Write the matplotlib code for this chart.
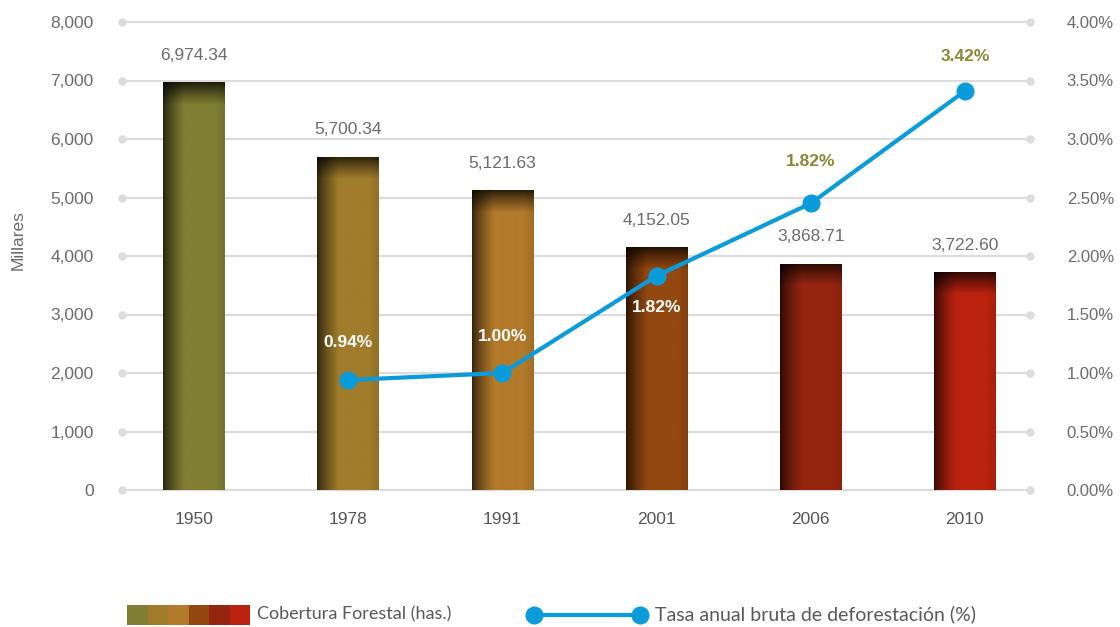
import numpy as np
import matplotlib
matplotlib.use("Agg")
import matplotlib.pyplot as plt
from matplotlib.colors import to_rgb
from matplotlib.patches import Rectangle
from matplotlib.lines import Line2D
from matplotlib.ticker import FuncFormatter

# ---- data ----
years = ["1950", "1978", "1991", "2001", "2006", "2010"]
cobertura = [6974.34, 5700.34, 5121.63, 4152.05, 3868.71, 3722.60]
cobertura_labels = ["6,974.34", "5,700.34", "5,121.63", "4,152.05", "3,868.71", "3,722.60"]
tasa_years_idx = [1, 2, 3, 4, 5]
tasa = [0.94, 1.00, 1.83, 2.45, 3.41]
tasa_labels = ["0.94%", "1.00%", "1.82%", "1.82%", "3.42%"]
bar_colors = ["#817f33", "#a07c2b", "#b27a2a", "#934810", "#962510", "#bb220f"]
left_ticks = [0, 1000, 2000, 3000, 4000, 5000, 6000, 7000, 8000]
right_ticks = [0, 0.5, 1.0, 1.5, 2.0, 2.5, 3.0, 3.5, 4.0]

# ---- styles ----
label_color = "#6b6b70"
grid_color = "#dcdcdc"
line_color = "#0a9bdb"
pct_colors = ["white", "white", "white", "#8c8636", "#8c8636"]
pct_offsets = [27, 26, -23, 30, 25]
FONT = "Liberation Sans"

fig = plt.figure(figsize=(11.2, 6.27), dpi=100)
ax = fig.add_axes([120 / 1120, (627 - 490) / 627, (1032 - 120) / 1120, (490 - 22) / 627])
ax2 = ax.twinx()

x = np.arange(len(years))
xlim = (-0.48, 5.435)
ax.set_xlim(*xlim)
ax.set_ylim(0, 8000)
ax2.set_ylim(0, 4.0)

# grid lines with dots at both ends
for t in left_ticks:
    ax.plot([xlim[0], xlim[1]], [t, t], color=grid_color, lw=1.6, zorder=0.5,
            solid_capstyle="round", clip_on=False)
    ax.plot([xlim[0] + 0.012, xlim[1] - 0.012], [t, t], ls="none", marker="o", ms=5,
            color=grid_color, zorder=0.5, clip_on=False)

# bars with gradient shading
bw = 0.40
bars = ax.bar(x, cobertura, width=bw, color=bar_colors, zorder=2)
px_per_unit = 468 / 8000.0
for rect, col in zip(bars, bar_colors):
    h = rect.get_height()
    x0 = rect.get_x()
    base = np.array(to_rgb(col))
    nx, ny = 60, 300
    u = np.linspace(0, 1, nx)
    fx = 0.30 + 0.70 * np.clip(u / 0.35, 0, 1) ** 0.8
    fx = fx * (1 - 0.10 * np.clip((u - 0.85) / 0.15, 0, 1))
    hp = h * px_per_unit
    ypix = np.linspace(hp, 0, ny)
    dtop = hp - ypix
    fy = 0.25 + 0.75 * np.clip(dtop / 22.0, 0, 1) ** 0.9
    f = np.minimum(fy[:, None], 1.0) * fx[None, :]
    img = base[None, None, :] * f[:, :, None]
    im = ax.imshow(img, extent=(x0, x0 + bw, 0, h), aspect="auto", zorder=2.1,
                   interpolation="bilinear")
    im.set_clip_path(rect)

# bar value labels
for xi, v, lab in zip(x, cobertura, cobertura_labels):
    ax.annotate(lab, (xi, v), xytext=(0, 14), textcoords="offset points",
                ha="center", va="bottom", fontsize=12.5, color=label_color,
                family=FONT, zorder=5)

# line series
tx = [x[i] for i in tasa_years_idx]
ax2.plot(tx, tasa, color=line_color, lw=3, marker="o", ms=12, zorder=4)
for xi, v, lab, c, off in zip(tx, tasa, tasa_labels, pct_colors, pct_offsets):
    ax2.annotate(lab, (xi, v), xytext=(0, off), textcoords="offset points",
                 ha="center", va="center", fontsize=12.5, color=c,
                 fontweight="bold", family=FONT, zorder=6)

# axes styling
for a in (ax, ax2):
    for s in a.spines.values():
        s.set_visible(False)
ax.set_zorder(ax2.get_zorder() - 1)
ax2.patch.set_visible(False)

ax.set_yticks(left_ticks)
ax.yaxis.set_major_formatter(FuncFormatter(lambda v, p: f"{int(v):,}"))
ax.tick_params(axis="y", length=0, pad=19, labelsize=12.5, labelcolor=label_color)
ax2.set_yticks(right_ticks)
ax2.yaxis.set_major_formatter(FuncFormatter(lambda v, p: f"{v:.2f}%"))
ax2.tick_params(axis="y", length=0, pad=25, labelsize=12, labelcolor=label_color)
ax.set_xticks(x)
ax.set_xticklabels(years)
ax.tick_params(axis="x", length=0, pad=16, labelsize=12.5, labelcolor="#555555")
for lab in ax.get_yticklabels() + ax2.get_yticklabels() + ax.get_xticklabels():
    lab.set_family(FONT)

fig.text(18 / 1120, 1 - 240 / 627, "Millares", rotation=90, ha="center", va="center",
         fontsize=12.5, color=label_color, family=FONT)

# ---- legend (custom) ----
lax = fig.add_axes([0, 0, 1, 1], zorder=10)
lax.set_xlim(0, 1120)
lax.set_ylim(627, 0)
lax.axis("off")
sw = 20.5
for i, c in enumerate(bar_colors):
    lax.add_patch(Rectangle((127 + i * sw, 605), sw, 20, color=c, lw=0))
lax.text(257, 614, "Cobertura Forestal (has.)", fontsize=13, color="#595959",
         family="Lato", va="center", ha="left")
lax.add_line(Line2D([534, 640], [615, 615], color=line_color, lw=3))
lax.plot([534, 640], [615, 615], ls="none", marker="o", ms=12, color=line_color)
lax.text(655, 614, "Tasa anual bruta de deforestación (%)", fontsize=14, color="#595959",
         family="Lato", va="center", ha="left")

fig.savefig("out.png", dpi=100)
